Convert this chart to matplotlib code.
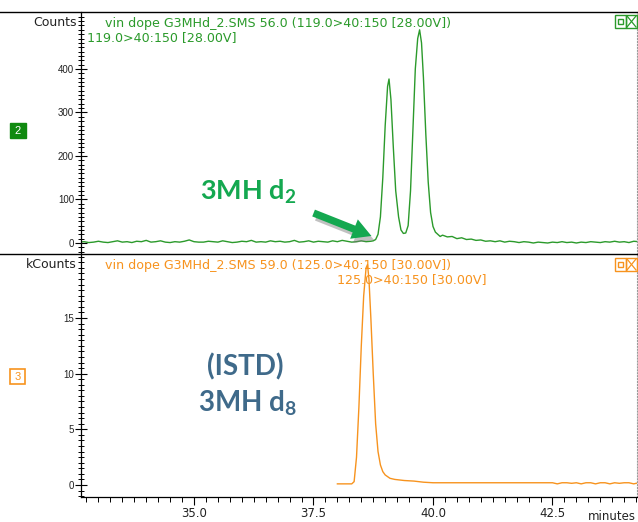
import matplotlib
matplotlib.use('Agg')
import matplotlib.pyplot as plt
from matplotlib.patches import Rectangle, FancyArrowPatch
from matplotlib.lines import Line2D
import matplotlib.patheffects as pe
from matplotlib.ticker import MultipleLocator, FixedLocator

plt.rcParams['mathtext.fontset'] = 'custom'
plt.rcParams['mathtext.bf'] = 'Lato:bold'
plt.rcParams['mathtext.rm'] = 'Lato'

W, H = 638, 522


def px(x, y):
    return (x / W, 1 - y / H)


# ---------------- data ----------------
top_time = [32.6, 32.7, 32.8, 32.9, 33.0, 33.1, 33.2, 33.3, 33.4, 33.5, 33.6, 33.7, 33.8, 33.9,
            34.0, 34.1, 34.2, 34.3, 34.4, 34.5, 34.6, 34.7, 34.8, 34.9, 35.0, 35.1, 35.2, 35.3,
            35.4, 35.5, 35.6, 35.7, 35.8, 35.9, 36.0, 36.1, 36.2, 36.3, 36.4, 36.5, 36.6, 36.7,
            36.8, 36.9, 37.0, 37.1, 37.2, 37.3, 37.4, 37.5, 37.6, 37.7, 37.8, 37.9, 38.0, 38.1,
            38.2, 38.3, 38.4, 38.5, 38.6, 38.7, 38.75, 38.8, 38.85, 38.9, 38.95, 39.0, 39.05,
            39.08, 39.12, 39.17, 39.22, 39.28, 39.33, 39.38, 39.43, 39.48, 39.53, 39.58, 39.63,
            39.68, 39.72, 39.76, 39.8, 39.85, 39.9, 39.95, 40.0, 40.05, 40.1, 40.15, 40.2, 40.3,
            40.4, 40.5, 40.6, 40.7, 40.8, 40.9, 41.0, 41.1, 41.2, 41.3, 41.4, 41.5, 41.6, 41.7,
            41.8, 41.9, 42.0, 42.1, 42.2, 42.3, 42.4, 42.5, 42.6, 42.7, 42.8, 42.9, 43.0, 43.1,
            43.2, 43.3, 43.4, 43.5, 43.6, 43.7, 43.8, 43.9, 44.0, 44.1, 44.2, 44.3]
top_counts = [2, 3, 1, 2, 4, 2, 1, 3, 5, 2, 3, 1, 4, 3,
              6, 2, 3, 5, 2, 1, 3, 2, 4, 7, 3, 2, 2, 4,
              3, 2, 5, 3, 1, 2, 4, 3, 6, 2, 3, 2, 5, 3,
              4, 2, 3, 6, 2, 3, 5, 2, 4, 3, 2, 5, 3, 6,
              4, 2, 3, 5, 3, 4, 5, 8, 20, 60, 150, 270, 360,
              377, 330, 220, 120, 60, 30, 22, 23, 40, 120, 260, 400,
              470, 490, 460, 380, 250, 140, 70, 38, 25, 20, 15, 18, 14,
              15, 10, 12, 8, 9, 6, 7, 4, 5, 3, 5, 2, 4, 3,
              1, 3, 2, 0, 2, 1, 0, 2, 1, 3, 1, 2, 0, 2,
              1, 3, 2, 1, 3, 2, 4, 2, 3, 1, 4, 3]

bot_time = [38.0, 38.1, 38.2, 38.3, 38.35, 38.4, 38.45, 38.5, 38.55, 38.6, 38.63, 38.66, 38.7,
            38.75, 38.8, 38.85, 38.9, 38.95, 39.0, 39.1, 39.2, 39.4, 39.6, 39.8, 40.0, 40.5,
            41.0, 41.5, 42.0, 42.5, 42.6, 42.7, 42.8, 42.9, 43.0, 43.1, 43.2, 43.3, 43.4, 43.5,
            43.6, 43.7, 43.8, 43.9, 44.0, 44.1, 44.2, 44.3]
bot_kcounts = [0.1, 0.1, 0.1, 0.1, 0.3, 2.5, 7.0, 12.5, 17.0, 19.5, 19.8, 18.5, 15.0,
               10.0, 5.5, 3.0, 1.8, 1.2, 0.9, 0.6, 0.5, 0.4, 0.35, 0.25, 0.2, 0.2,
               0.2, 0.2, 0.2, 0.2, 0.1, 0.2, 0.2, 0.15, 0.2, 0.1, 0.2, 0.2, 0.1, 0.2,
               0.2, 0.1, 0.2, 0.15, 0.2, 0.2, 0.1, 0.2]

top_title = "vin dope G3MHd_2.SMS 56.0 (119.0>40:150 [28.00V])"
top_sub = "119.0>40:150 [28.00V]"
bot_title = "vin dope G3MHd_2.SMS 59.0 (125.0>40:150 [30.00V])"
bot_sub = "125.0>40:150 [30.00V]"
x_ticks = [35.0, 37.5, 40.0, 42.5]
x_ticklabels = ["35.0", "37.5", "40.0", "42.5"]
top_yticks = [0, 100, 200, 300, 400]
bot_yticks = [0, 5, 10, 15]

GREEN = '#2b9a2b'
ORANGE = '#f7931e'
ANN_GREEN = '#14a850'
ANN_BLUE = '#3f6a8a'
TXT = '#222222'

# ---------------- figure ----------------
fig = plt.figure(figsize=(6.38, 5.22), dpi=100)
ax1 = fig.add_axes([81 / W, 1 - 254 / H, (637 - 81) / W, (254 - 12) / H])
ax2 = fig.add_axes([81 / W, 1 - 497 / H, (637 - 81) / W, (497 - 254) / H])

ax1.plot(top_time, top_counts, color=GREEN, lw=1.0)
ax2.plot(bot_time, bot_kcounts, color=ORANGE, lw=1.0)

xlim = (32.636, 44.268)
for ax in (ax1, ax2):
    ax.set_xlim(*xlim)
    ax.spines['right'].set_linestyle(':')
    ax.spines['right'].set_color('#999999')
    ax.spines['left'].set_color('black')
    ax.spines['left'].set_linewidth(0.9)
    ax.tick_params(axis='y', which='major', direction='inout', length=8, width=0.8,
                   labelsize=7, labelcolor=TXT, pad=1)
    ax.tick_params(axis='y', which='minor', direction='inout', length=5, width=0.7)
    ax.set_facecolor('white')

ax1.set_ylim(-25.3, 531)
ax1.yaxis.set_major_locator(FixedLocator(top_yticks))
ax1.yaxis.set_minor_locator(MultipleLocator(10))
ax1.set_yticklabels([str(v) for v in top_yticks], family='Liberation Sans')
ax1.tick_params(axis='x', which='both', bottom=False, labelbottom=False)
ax1.spines['top'].set_visible(False)
ax1.spines['bottom'].set_visible(False)

ax2.set_ylim(-1.08, 20.75)
ax2.yaxis.set_major_locator(FixedLocator(bot_yticks))
ax2.yaxis.set_minor_locator(MultipleLocator(0.5))
ax2.set_yticklabels([str(v) for v in bot_yticks], family='Liberation Sans')
ax2.spines['top'].set_visible(False)
ax2.spines['bottom'].set_linewidth(0.9)
ax2.xaxis.set_major_locator(FixedLocator(x_ticks))
ax2.xaxis.set_minor_locator(MultipleLocator(0.25))
ax2.set_xticklabels(x_ticklabels, family='DejaVu Sans')
ax2.tick_params(axis='x', which='major', direction='out', length=6, width=0.8,
                labelsize=8.5, labelcolor=TXT, pad=1)
ax2.tick_params(axis='x', which='minor', direction='out', length=3.5, width=0.7)

# full width frame lines
for yy in (12, 254):
    fig.add_artist(Line2D([0, 1], [px(0, yy)[1]] * 2, color='black', lw=1.0,
                          transform=fig.transFigure))

# axis unit labels
fig.text(*px(77, 23), "Counts", ha='right', va='center', fontsize=9,
         family='DejaVu Sans', color=TXT)
fig.text(*px(77, 265), "kCounts", ha='right', va='center', fontsize=9,
         family='DejaVu Sans', color=TXT)
fig.text(*px(588, 517), "minutes", ha='left', va='center', fontsize=8.5,
         family='DejaVu Sans', color=TXT)

# titles
fig.text(*px(105, 23), top_title, ha='left', va='center', fontsize=9.1,
         family='DejaVu Sans', color=GREEN)
fig.text(*px(87, 38), top_sub, ha='left', va='center', fontsize=9.1,
         family='DejaVu Sans', color=GREEN)
fig.text(*px(105, 265), bot_title, ha='left', va='center', fontsize=9.1,
         family='DejaVu Sans', color=ORANGE)
fig.text(*px(337, 280), bot_sub, ha='left', va='center', fontsize=9.1,
         family='DejaVu Sans', color=ORANGE)


# corner icons
def icon(y0, color):
    x0 = 615
    fig.add_artist(Rectangle(px(x0, y0 + 13), 11 / W, 13 / H, fill=False, ec=color, lw=1,
                             transform=fig.transFigure))
    fig.add_artist(Rectangle(px(x0 + 3, y0 + 9), 5 / W, 5 / H, fill=False, ec=color, lw=1,
                             transform=fig.transFigure))
    fig.add_artist(Rectangle(px(x0 + 11, y0 + 13), 11 / W, 13 / H, fill=False, ec=color, lw=1,
                             transform=fig.transFigure))
    for a, b in (((x0 + 12, y0 + 1), (x0 + 21, y0 + 12)), ((x0 + 12, y0 + 12), (x0 + 21, y0 + 1))):
        p, q = px(*a), px(*b)
        fig.add_artist(Line2D([p[0], q[0]], [p[1], q[1]], color=color, lw=0.9,
                              transform=fig.transFigure))


icon(15, GREEN)
icon(258, ORANGE)

# channel boxes
fig.add_artist(Rectangle(px(10, 138), 16 / W, 15 / H, fc='#108a10', ec='#108a10',
                         transform=fig.transFigure))
fig.text(*px(18, 130.5), "2", ha='center', va='center', fontsize=8, color='white',
         family='Liberation Sans')
fig.add_artist(Rectangle(px(10, 384), 15 / W, 15 / H, fc='white', ec=ORANGE, lw=1.2,
                         transform=fig.transFigure))
fig.text(*px(17.5, 376.5), "3", ha='center', va='center', fontsize=8, color=ORANGE,
         family='Liberation Sans')

# annotations
fig.text(*px(200, 192), r"3MH d$_\mathbf{2}$", ha='left', va='center', fontsize=19.5,
         fontweight='bold', family='Lato', color=ANN_GREEN)
arrow = FancyArrowPatch(px(311, 212), px(374, 237), transform=fig.transFigure,
                        arrowstyle='simple,head_length=0.9,head_width=1.0,tail_width=0.35',
                        mutation_scale=15, color=ANN_GREEN, lw=0)
arrow.set_path_effects([pe.SimplePatchShadow(offset=(2, -3), shadow_rgbFace='#777777', alpha=0.45),
                        pe.Normal()])
fig.add_artist(arrow)

fig.text(*px(245, 367), "(ISTD)", ha='center', va='center', fontsize=20,
         fontweight='bold', family='Lato', color=ANN_BLUE)
fig.text(*px(247, 403), r"3MH d$_\mathbf{8}$", ha='center', va='center', fontsize=20,
         fontweight='bold', family='Lato', color=ANN_BLUE)

fig.savefig('out.png', dpi=100)
